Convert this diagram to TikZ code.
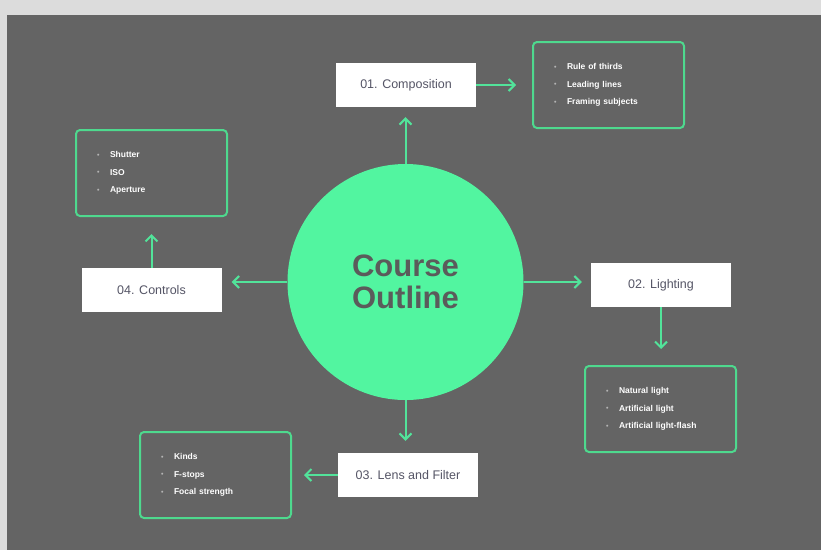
\documentclass[tikz,border=0pt]{standalone}
\usepackage{fontspec}
\setmainfont{Liberation Sans}
\usetikzlibrary{positioning, arrows.meta}

\definecolor{bglight}{HTML}{DCDCDC}
\definecolor{bgdark}{HTML}{646464}
\definecolor{circgreen}{HTML}{52F5A0}
\definecolor{boxgreen}{HTML}{4ED98E}
\definecolor{arrgreen}{HTML}{52E39A}
\definecolor{titlegray}{HTML}{5B5B5B}
\definecolor{labelgray}{HTML}{555566}
\definecolor{dotgray}{HTML}{B4B4B4}

\newcommand{\bul}{\makebox[13pt][l]{\textcolor{dotgray}{\raisebox{0.3pt}{\fontsize{7}{7}\selectfont\textbullet}}}}

\tikzset{
  topicbox/.style={fill=white, minimum width=140pt, minimum height=44pt, inner sep=0pt,
                   text=labelgray, font=\fontsize{12.5}{14}\selectfont},
  listbox/.style={draw=boxgreen, line width=2pt, rounded corners=4pt, minimum height=86pt,
                  text width=109pt, inner xsep=21pt, align=left, text=white,
                  font=\bfseries\fontsize{8.5}{17.5}\selectfont},
  arr/.style={draw=arrgreen, line width=2pt, -{Straight Barb[length=6pt,width=12pt,line width=2pt]}}
}

\begin{document}
\begin{tikzpicture}[x=1pt, y=-1pt]
                  \useasboundingbox (0,0) rectangle (821,550);
                  \fill[bglight] (0,0) rectangle (821,550);
                  \fill[bgdark] (7,15) rectangle (821,550);

                  \node[circle, fill=circgreen, minimum size=236pt, inner sep=0pt, align=center,
                        text=titlegray, font=\bfseries\fontsize{31}{32}\selectfont] (course) at (405.5,282) {Course\\Outline};

                  \node[topicbox] (comp) at (406,85) {01. Composition};
                  \node[topicbox] (light) at (661,285) {02. Lighting};
                  \node[topicbox] (lens) at (408,475) {03. Lens and Filter};
                  \node[topicbox] (ctrl) at (151.5,290) {04. Controls};

                  \node[listbox] (complist) at (608.5,85) {\bul Rule of thirds\\\bul Leading lines\\\bul Framing subjects};
                  \node[listbox] (lightlist) at (660.5,409) {\bul Natural light\\\bul Artificial light\\\bul Artificial light-flash};
                  \node[listbox] (lenslist) at (215.5,475) {\bul Kinds\\\bul F-stops\\\bul Focal strength};
                  \node[listbox] (ctrllist) at (151.5,173) {\bul Shutter\\\bul ISO\\\bul Aperture};

                  \draw[arr, shorten >=10pt] (course.north) -- (course.north |- comp.south);
                  \draw[arr, shorten >=16pt] (comp.east) -- (complist.west);
                  \draw[arr, shorten >=9pt] (course.east) -- (course.east -| light.west);
                  \draw[arr, shorten >=16pt] (light.south) -- (light.south |- lightlist.north);
                  \draw[arr, shorten >=12pt] (course.south) -- (course.south |- lens.north);
                  \draw[arr, shorten >=12pt] (lens.west) -- (lenslist.east);
                  \draw[arr, shorten >=10pt] (course.west) -- (course.west -| ctrl.east);
                  \draw[arr, shorten >=17pt] (ctrl.north) -- (ctrllist.south);
              \end{tikzpicture}
\end{document}
